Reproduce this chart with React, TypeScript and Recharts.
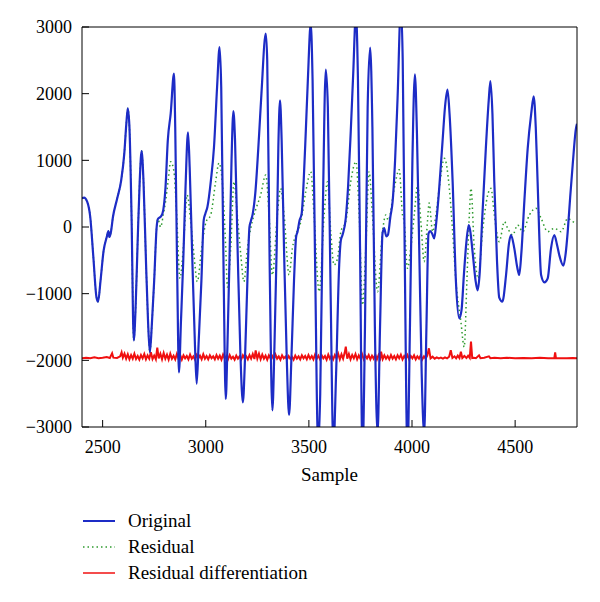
import { Label, Line, LineChart, XAxis, YAxis } from "recharts";

// sample index, amplitude
const original: [number, number][] = [
  [2400, 430], [2410, 440], [2425, 380], [2440, 150], [2455, -450], [2470, -1050], [2478, -1120],
  [2490, -800], [2505, -350], [2520, -150], [2528, -60], [2533, -150], [2540, -80], [2550, 150],
  [2570, 420], [2590, 700], [2605, 1100], [2615, 1550], [2622, 1780], [2630, 1500], [2640, 200],
  [2651, -1700], [2660, -1200], [2670, -200], [2680, 700], [2689, 1140], [2698, 700], [2710, -500],
  [2720, -1400], [2729, -1880], [2738, -1500], [2750, -800], [2762, 0], [2768, 120], [2780, 150],
  [2790, 200], [2805, 600], [2816, 1300], [2830, 1700], [2846, 2300], [2852, 1500], [2862, -800],
  [2870, -2180], [2880, -1400], [2891, -500], [2902, 600], [2914, 1420], [2922, 900], [2935, -500],
  [2948, -1800], [2956, -2350], [2966, -1700], [2979, -800], [2990, 100], [2998, 200], [3008, 300],
  [3025, 700], [3040, 1200], [3055, 2100], [3067, 2700], [3075, 2100], [3087, -800], [3097, -2580],
  [3105, -1800], [3115, -500], [3125, 1000], [3134, 1740], [3142, 1300], [3155, -400], [3168, -1900],
  [3180, -2630], [3190, -2000], [3202, -800], [3212, 0], [3218, 80], [3228, 200], [3240, 500],
  [3258, 1350], [3270, 2000], [3291, 2900], [3298, 2500], [3310, -600], [3323, -2750], [3333, -1800],
  [3344, -300], [3352, 1200], [3360, 1900], [3368, 1300], [3380, -400], [3393, -2000], [3404, -2820],
  [3415, -2000], [3428, -800], [3438, -150], [3445, -70], [3455, 100], [3465, 200], [3475, 700],
  [3485, 1430], [3495, 2200], [3509, 3050], [3518, 2200], [3530, -500], [3545, -3300], [3555, -2500],
  [3568, 300], [3582, 2360], [3592, 1800], [3605, -900], [3619, -3300], [3632, -2200], [3647, -570],
  [3655, -200], [3663, -120], [3679, 135], [3690, 600], [3703, 1430], [3715, 2300], [3728, 3200],
  [3738, 2200], [3748, -300], [3760, -3400], [3772, -1500], [3785, 1800], [3797, 2690], [3808, 1500],
  [3820, -1500], [3833, -3100], [3845, -1500], [3857, -100], [3865, -15], [3875, -140], [3883, -120],
  [3895, 150], [3906, 380], [3918, 1000], [3930, 1930], [3946, 3300], [3955, 2500], [3965, -500],
  [3978, -3400], [3990, -1500], [4002, 1000], [4014, 2290], [4024, 1400], [4035, -320], [4047, -2200],
  [4059, -3100], [4070, -1500], [4080, -100], [4088, -60], [4098, -100], [4108, -170], [4118, 80],
  [4130, 500], [4148, 1280], [4160, 1800], [4172, 2060], [4182, 1700], [4197, 680], [4213, -820],
  [4229, -1370], [4240, -1250], [4252, -700], [4263, -250], [4275, 30], [4282, -50], [4294, -380],
  [4308, -800], [4318, -950], [4328, -700], [4340, 100], [4358, 1180], [4372, 1900], [4380, 2190],
  [4390, 1700], [4399, 680], [4412, -500], [4423, -1060], [4438, -1120], [4456, -720], [4470, -250],
  [4480, -120], [4496, -320], [4510, -600], [4520, -720], [4530, -400], [4545, 400], [4561, 1180],
  [4578, 1700], [4590, 1960], [4600, 1500], [4609, 680], [4626, -720], [4642, -830], [4658, -770],
  [4674, -320], [4690, -120], [4702, -250], [4714, -420], [4734, -580], [4745, -400], [4755, -70],
  [4767, 450], [4779, 930], [4795, 1480], [4800, 1550],
];

const residual: [number, number][] = [
  [2400, 430], [2410, 440], [2425, 380], [2440, 150], [2455, -450], [2470, -1050], [2478, -1120],
  [2490, -800], [2505, -350], [2520, -150], [2528, -60], [2533, -150], [2540, -80], [2550, 150],
  [2570, 420], [2590, 700], [2605, 1100], [2615, 1550], [2622, 1780], [2630, 1500], [2640, 200],
  [2651, -1700], [2660, -1200], [2670, -200], [2680, 700], [2689, 1140], [2698, 700], [2710, -500],
  [2720, -1400], [2729, -1880], [2738, -1500], [2750, -800], [2762, 0], [2768, 120],
  [2781, 0], [2795, 200], [2805, 380], [2818, 700], [2830, 980], [2846, 830], [2859, 180],
  [2875, -770], [2891, -320], [2910, 480], [2928, 50], [2943, -420], [2959, -820], [2980, -320],
  [3002, 80], [3024, 180], [3048, 680], [3064, 960], [3080, 680], [3097, -320], [3105, -900],
  [3121, -320], [3137, 680], [3153, 180], [3170, -420], [3185, -820], [3202, -320], [3218, -20],
  [3234, 180], [3266, 480], [3291, 780], [3307, 180], [3323, -720], [3347, 180], [3363, 580],
  [3380, 180], [3404, -720], [3420, -320], [3436, -120], [3461, 80], [3485, 530], [3509, 830],
  [3525, 180], [3550, -970], [3574, 180], [3590, 680], [3606, -70], [3622, -570], [3639, -470],
  [3655, -70], [3679, 80], [3703, 680], [3728, 980], [3744, 180], [3760, -1170], [3776, -320],
  [3792, 830], [3808, 180], [3833, -970], [3857, -70], [3873, 180], [3885, 100], [3914, 580],
  [3938, 860], [3954, 180], [3962, 80], [3978, -620], [3994, -320], [4011, 180], [4027, 630],
  [4043, 80], [4059, -520], [4075, 80], [4083, 360], [4100, -70], [4116, 180], [4132, 580],
  [4157, 1030], [4181, 580], [4197, -70], [4213, -820], [4237, -1420], [4253, -1800], [4266, -820],
  [4278, 180], [4286, 580], [4302, -320], [4321, -770], [4342, -70], [4367, 480], [4383, 580],
  [4399, 180], [4423, -220], [4448, 80], [4464, -20], [4488, -120], [4512, 30], [4537, -70],
  [4569, 180], [4601, 280], [4626, 130], [4658, -70], [4690, -20], [4723, -70], [4755, 130],
  [4779, 80], [4800, 60],
];

const residualDiff: [number, number][] = [
  [2400, -1968], [2420, -1960], [2440, -1970], [2460, -1955], [2480, -1968], [2500, -1962], [2520, -1950],
  [2535, -1965], [2546, -1895], [2552, -1960], [2570, -1965], [2585, -1940], [2592, -1880], [2598, -1960],
  [2606, -1900], [2614, -1975], [2622, -1910], [2630, -1985], [2638, -1920], [2646, -1975], [2654, -1900],
  [2662, -1980], [2670, -1935], [2678, -1990], [2686, -1920], [2694, -1970], [2702, -1905], [2710, -1985],
  [2718, -1925], [2726, -1975], [2734, -1880], [2742, -1980], [2750, -1930], [2758, -1985], [2765, -1810],
  [2772, -1970], [2780, -1900], [2788, -1985], [2796, -1890], [2804, -1975], [2812, -1915], [2820, -1990],
  [2828, -1900], [2836, -1975], [2844, -1930], [2852, -1985], [2860, -1905], [2868, -1975], [2876, -1920],
  [2884, -1990], [2892, -1925], [2900, -1970], [2908, -1935], [2916, -1985], [2924, -1915], [2932, -1975],
  [2940, -1940], [2948, -1990], [2956, -1920], [2964, -1970], [2972, -1930], [2980, -1985], [2988, -1910],
  [2996, -1975], [3004, -1935], [3012, -1985], [3020, -1925], [3028, -1970], [3036, -1940], [3044, -1985],
  [3052, -1920], [3060, -1975], [3068, -1930], [3076, -1990], [3084, -1915], [3092, -1975], [3100, -1935],
  [3108, -1985], [3116, -1920], [3124, -1975], [3132, -1945], [3140, -1990], [3148, -1930], [3156, -1975],
  [3164, -1940], [3172, -1985], [3180, -1925], [3188, -1970], [3196, -1940], [3204, -1985], [3212, -1920],
  [3220, -1975], [3228, -1905], [3236, -1980], [3242, -1850], [3250, -1975], [3258, -1900], [3266, -1985],
  [3274, -1915], [3282, -1975], [3290, -1930], [3298, -1990], [3306, -1925], [3314, -1970], [3322, -1935],
  [3330, -1985], [3338, -1915], [3346, -1975], [3354, -1940], [3362, -1990], [3370, -1925], [3378, -1970],
  [3386, -1945], [3394, -1985], [3402, -1935], [3410, -1975], [3418, -1945], [3426, -1990], [3434, -1930],
  [3442, -1975], [3450, -1940], [3458, -1985], [3466, -1925], [3474, -1970], [3482, -1935], [3490, -1985],
  [3498, -1920], [3506, -1975], [3514, -1935], [3522, -1985], [3530, -1915], [3538, -1975], [3546, -1930],
  [3554, -1985], [3562, -1925], [3570, -1970], [3578, -1935], [3586, -1990], [3594, -1915], [3602, -1975],
  [3610, -1930], [3618, -1985], [3626, -1920], [3634, -1970], [3642, -1900], [3650, -1985], [3658, -1910],
  [3666, -1975], [3674, -1880], [3679, -1795], [3686, -1975], [3694, -1905], [3702, -1985], [3710, -1920],
  [3718, -1970], [3726, -1905], [3734, -1985], [3742, -1925], [3750, -1975], [3758, -1910], [3766, -1985],
  [3774, -1930], [3782, -1970], [3790, -1920], [3798, -1985], [3806, -1930], [3814, -1975], [3822, -1915],
  [3830, -1985], [3838, -1920], [3846, -1970], [3850, -1870], [3858, -1980], [3866, -1925], [3874, -1975],
  [3882, -1935], [3890, -1985], [3898, -1920], [3906, -1975], [3914, -1935], [3922, -1985], [3930, -1925],
  [3938, -1970], [3946, -1915], [3954, -1985], [3962, -1935], [3970, -1975], [3978, -1920], [3986, -1985],
  [3994, -1935], [4002, -1970], [4010, -1925], [4018, -1985], [4026, -1940], [4034, -1975], [4042, -1925],
  [4050, -1985], [4058, -1940], [4066, -1975], [4074, -1930], [4082, -1820], [4090, -1970], [4100, -1945],
  [4110, -1975], [4120, -1955], [4130, -1970], [4140, -1960], [4150, -1975], [4160, -1955], [4170, -1970],
  [4180, -1945], [4188, -1850], [4196, -1965], [4206, -1940], [4214, -1970], [4222, -1930], [4230, -1965],
  [4237, -1870], [4244, -1965], [4254, -1935], [4264, -1965], [4272, -1930], [4280, -1965], [4286, -1720],
  [4292, -1965], [4300, -1960], [4310, -1968], [4325, -1925], [4332, -1968], [4350, -1962], [4373, -1940],
  [4380, -1968], [4400, -1962], [4430, -1968], [4460, -1962], [4500, -1968], [4540, -1964], [4580, -1968],
  [4620, -1963], [4660, -1968], [4690, -1966], [4694, -1880], [4698, -1966], [4720, -1968], [4750, -1970],
  [4780, -1965], [4800, -1970],
];

const xTicks = [2500, 3000, 3500, 4000, 4500];
const yTicks = [-3000, -2000, -1000, 0, 1000, 2000, 3000];

const toRows = (pts: [number, number][]) => pts.map(([s, v]) => ({ s, v }));

const BLUE = "#1d2cc6";
const GREEN = "#2f9a2f";
const RED = "#f01010";
const FONT = "'Liberation Serif', 'DejaVu Serif', serif";

const fmtY = (v: number) => (v < 0 ? `\u2212${Math.abs(v)}` : `${v}`);

const legendItems = [
  { label: "Original", color: BLUE, dash: undefined as string | undefined, width: 2 },
  { label: "Residual", color: GREEN, dash: "1.5 3", width: 1.5 },
  { label: "Residual differentiation", color: RED, dash: undefined, width: 1.5 },
];

export default function App() {
  return (
    <div style={{ position: "absolute", left: 0, top: 0, width: 600, height: 602, background: "#fff", fontFamily: FONT }}>
      <LineChart width={600} height={602} margin={{ top: 0, right: 0, bottom: 0, left: 0 }}>
        <XAxis
          xAxisId="b"
          type="number"
          dataKey="s"
          domain={[2400, 4800]}
          ticks={xTicks}
          allowDataOverflow
          height={175}
          tickSize={-7}
          tickMargin={20}
          stroke="#000"
          tick={{ fill: "#000", fontSize: 18 }}
        >
          <Label value="Sample" position="insideTop" offset={41} fill="#000" fontSize={19} />
        </XAxis>
        <XAxis
          xAxisId="t"
          orientation="top"
          type="number"
          dataKey="s"
          domain={[2400, 4800]}
          ticks={xTicks}
          allowDataOverflow
          height={27}
          tickSize={-7}
          tick={false}
          stroke="#000"
        />
        <YAxis
          yAxisId="l"
          type="number"
          domain={[-3000, 3000]}
          ticks={yTicks}
          allowDataOverflow
          width={82}
          tickSize={-7}
          tickMargin={17}
          tickFormatter={fmtY}
          stroke="#000"
          tick={{ fill: "#000", fontSize: 18 }}
        />
        <YAxis
          yAxisId="r"
          orientation="right"
          type="number"
          domain={[-3000, 3000]}
          ticks={yTicks}
          allowDataOverflow
          width={23}
          tickSize={-7}
          tick={false}
          stroke="#000"
        />
        <Line
          xAxisId="b"
          yAxisId="l"
          data={toRows(residualDiff)}
          dataKey="v"
          type="linear"
          stroke={RED}
          strokeWidth={2}
          dot={false}
          isAnimationActive={false}
        />
        <Line
          xAxisId="b"
          yAxisId="l"
          data={toRows(residual)}
          dataKey="v"
          type="monotone"
          stroke={GREEN}
          strokeWidth={1.5}
          strokeDasharray="1.5 3"
          dot={false}
          isAnimationActive={false}
        />
        <Line
          xAxisId="b"
          yAxisId="l"
          data={toRows(original)}
          dataKey="v"
          type="monotone"
          stroke={BLUE}
          strokeWidth={2.2}
          dot={false}
          isAnimationActive={false}
        />
      </LineChart>
      <div style={{ position: "absolute", left: 83, top: 508 }}>
        {legendItems.map((it) => (
          <div key={it.label} style={{ display: "flex", alignItems: "center", height: 26, fontSize: 19, color: "#000" }}>
            <svg width={33} height={26} style={{ marginRight: 12 }}>
              <line x1={0} y1={13} x2={32} y2={13} stroke={it.color} strokeWidth={it.width} strokeDasharray={it.dash} />
            </svg>
            <span>{it.label}</span>
          </div>
        ))}
      </div>
    </div>
  );
}
